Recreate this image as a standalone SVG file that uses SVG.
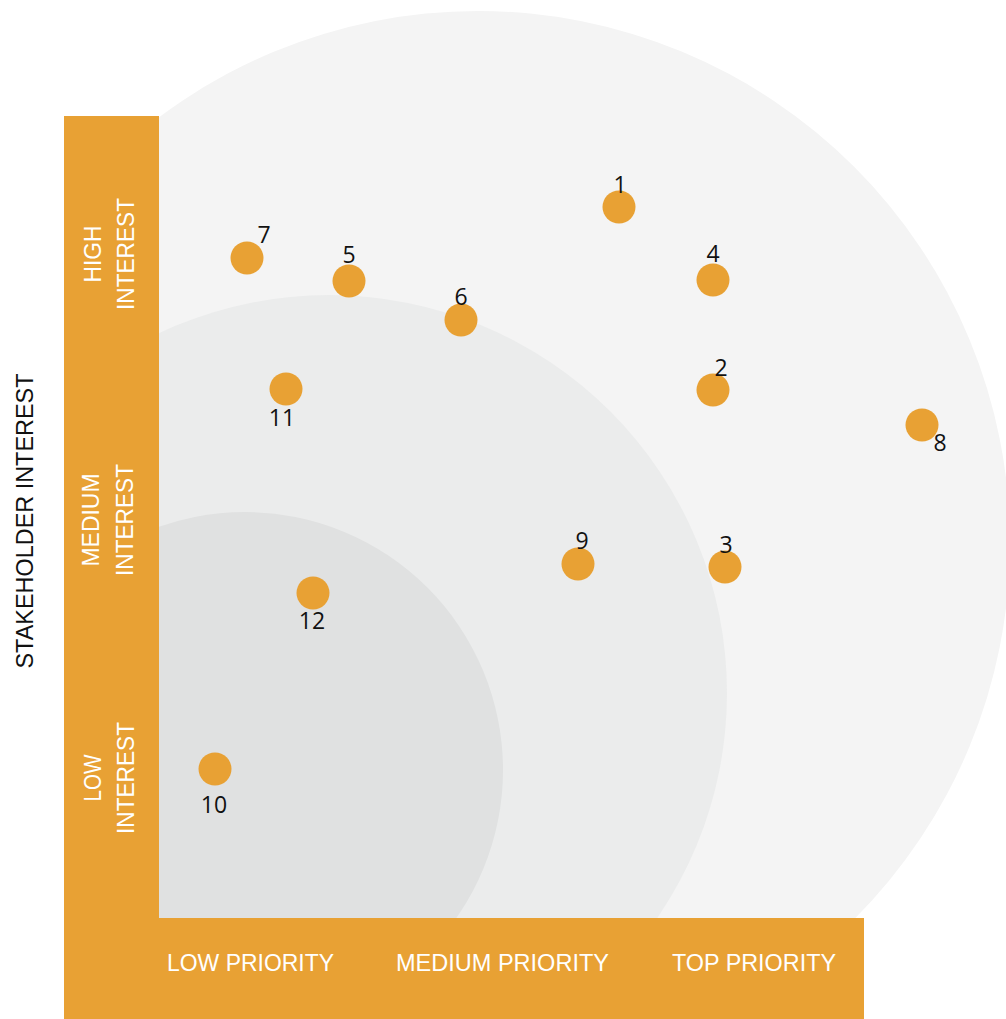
<svg xmlns="http://www.w3.org/2000/svg" width="1006" height="1019" viewBox="0 0 1006 1019">
<style>
.bar{fill:#E8A134}
.dot{fill:#E8A134}
.num{font-family:"Open Sans","Liberation Sans",sans-serif;font-size:23px;fill:#111;text-anchor:middle}
.ax{font-family:"Liberation Sans","DejaVu Sans",sans-serif;font-size:24px;fill:#ffffff;text-anchor:middle}
.side{font-family:"Liberation Sans","DejaVu Sans",sans-serif;font-size:24px;fill:#ffffff;text-anchor:middle}
.title{font-family:"Liberation Sans","DejaVu Sans",sans-serif;font-size:24px;fill:#111;text-anchor:middle}
</style>
<defs>
<clipPath id="plot"><rect x="159" y="0" width="847" height="918"/></clipPath>
</defs>
<rect width="1006" height="1019" fill="#ffffff"/>
<g id="rings" clip-path="url(#plot)">
<circle cx="478" cy="543" r="532" fill="#F4F4F4"/>
<circle cx="329" cy="693" r="398" fill="#EBECEC"/>
<circle cx="245" cy="770" r="258" fill="#E0E1E1"/>
</g>
<g id="axes">
<rect class="bar" x="64" y="116" width="95" height="903"/>
<rect class="bar" x="64" y="918" width="800" height="101"/>
<text class="ax" x="250.5" y="971" textLength="167" lengthAdjust="spacingAndGlyphs">LOW PRIORITY</text>
<text class="ax" x="502.5" y="971" textLength="213" lengthAdjust="spacingAndGlyphs">MEDIUM PRIORITY</text>
<text class="ax" x="754" y="971" textLength="164" lengthAdjust="spacingAndGlyphs">TOP PRIORITY</text>
<g transform="translate(0,254) rotate(-90)">
<text class="side" x="0" y="101" textLength="57" lengthAdjust="spacingAndGlyphs">HIGH</text>
<text class="side" x="0" y="134" textLength="112" lengthAdjust="spacingAndGlyphs">INTEREST</text>
</g>
<g transform="translate(0,520) rotate(-90)">
<text class="side" x="0" y="99" textLength="93" lengthAdjust="spacingAndGlyphs">MEDIUM</text>
<text class="side" x="0" y="133" textLength="112" lengthAdjust="spacingAndGlyphs">INTEREST</text>
</g>
<g transform="translate(0,778) rotate(-90)">
<text class="side" x="0" y="101" textLength="47" lengthAdjust="spacingAndGlyphs">LOW</text>
<text class="side" x="0" y="134" textLength="112" lengthAdjust="spacingAndGlyphs">INTEREST</text>
</g>
<g transform="translate(0,521) rotate(-90)">
<text class="title" x="0" y="33" textLength="295" lengthAdjust="spacingAndGlyphs">STAKEHOLDER INTEREST</text>
</g>
</g>
<g id="connectors"></g>
<g id="node-1"><circle class="dot" cx="619" cy="207" r="16.5"/><text class="num" x="620" y="193">1</text></g>
<g id="node-2"><circle class="dot" cx="713" cy="390" r="16.5"/><text class="num" x="721" y="376">2</text></g>
<g id="node-3"><circle class="dot" cx="725" cy="567" r="16.5"/><text class="num" x="726" y="553">3</text></g>
<g id="node-4"><circle class="dot" cx="713" cy="280" r="16.5"/><text class="num" x="713" y="262">4</text></g>
<g id="node-5"><circle class="dot" cx="349" cy="281" r="16.5"/><text class="num" x="349" y="263">5</text></g>
<g id="node-6"><circle class="dot" cx="461" cy="320" r="16.5"/><text class="num" x="461" y="305">6</text></g>
<g id="node-7"><circle class="dot" cx="247" cy="258" r="16.5"/><text class="num" x="264" y="243">7</text></g>
<g id="node-8"><circle class="dot" cx="922" cy="425" r="16.5"/><text class="num" x="940" y="451">8</text></g>
<g id="node-9"><circle class="dot" cx="578" cy="564" r="16.5"/><text class="num" x="582" y="549">9</text></g>
<g id="node-10"><circle class="dot" cx="215" cy="769" r="16.5"/><text class="num" x="214" y="813">10</text></g>
<g id="node-11"><circle class="dot" cx="286" cy="389" r="16.5"/><text class="num" x="282" y="426">11</text></g>
<g id="node-12"><circle class="dot" cx="313" cy="593" r="16.5"/><text class="num" x="312" y="629">12</text></g>
</svg>
